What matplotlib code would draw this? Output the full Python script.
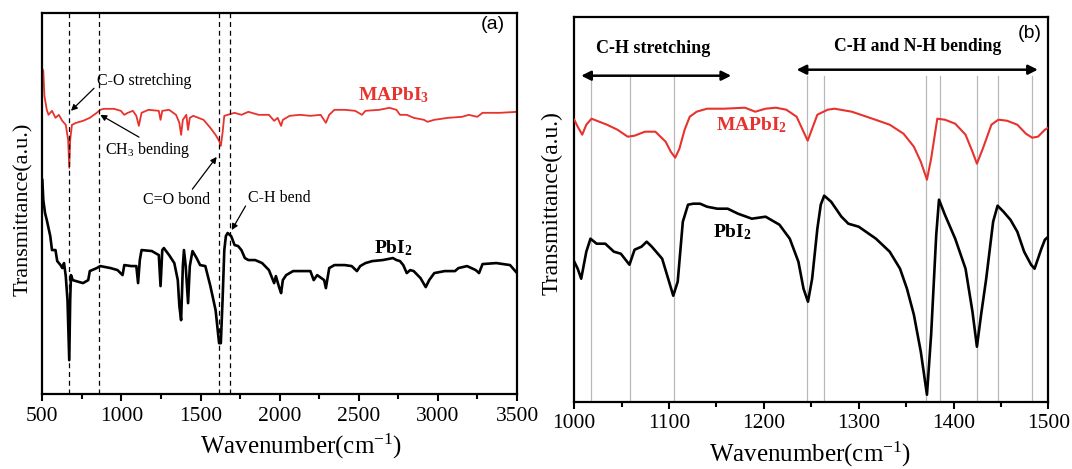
import matplotlib
matplotlib.use("Agg")
import matplotlib.pyplot as plt
from matplotlib.ticker import MultipleLocator
import numpy as np

plt.rcParams['font.family'] = ['Liberation Serif', 'DejaVu Serif']
plt.rcParams['mathtext.fontset'] = 'custom'
plt.rcParams['mathtext.rm'] = 'Liberation Serif'
plt.rcParams['mathtext.it'] = 'Liberation Serif:italic'
plt.rcParams['mathtext.bf'] = 'Liberation Serif:bold'

RED = '#e8322e'

# ---------------- Panel (a) data ----------------
a_red_wn = [500, 506, 513, 528, 539, 561, 583, 604, 626, 648, 663, 670, 676, 687, 713, 757, 800, 844,
            866, 888, 953, 996, 1018, 1040, 1072, 1094, 1110, 1127, 1170, 1236, 1247, 1258, 1301, 1345,
            1366, 1377, 1388, 1410, 1421, 1432, 1454, 1519, 1562, 1595, 1617, 1628, 1639, 1650, 1671,
            1715, 1758, 1802, 1867, 1932, 1965, 1987, 2009, 2020, 2063, 2128, 2194, 2259, 2292, 2313,
            2346, 2411, 2477, 2520, 2542, 2629, 2694, 2738, 2760, 2803, 2847, 2912, 2934, 2977, 3064,
            3152, 3195, 3249, 3282, 3391, 3500]
a_red_t = [325, 323, 298, 284, 279, 283, 276, 279, 273, 269, 254, 226, 254, 269, 271, 273, 276, 281,
           284, 285, 285, 283, 279, 281, 283, 278, 268, 281, 284, 283, 274, 283, 284, 279, 271, 259,
           274, 279, 264, 276, 278, 274, 266, 259, 253, 248, 261, 278, 279, 281, 279, 282, 279, 279,
           273, 276, 268, 274, 278, 279, 278, 279, 271, 279, 284, 284, 283, 279, 283, 284, 286, 284,
           279, 279, 276, 274, 272, 274, 276, 277, 279, 277, 281, 281, 282]

a_blk_wn = [500, 506, 517, 528, 550, 561, 583, 594, 615, 626, 637, 648, 659, 670, 676, 681, 692, 713,
            757, 790, 800, 844, 866, 931, 975, 1007, 1018, 1062, 1094, 1105, 1116, 1127, 1192, 1236,
            1247, 1258, 1268, 1301, 1334, 1356, 1366, 1377, 1388, 1395, 1406, 1421, 1432, 1449, 1475,
            1497, 1530, 1562, 1595, 1617, 1628, 1639, 1650, 1660, 1671, 1693, 1715, 1737, 1758, 1780,
            1802, 1845, 1889, 1932, 1965, 1976, 1998, 2009, 2020, 2041, 2085, 2150, 2194, 2215, 2237,
            2281, 2292, 2313, 2346, 2411, 2455, 2488, 2509, 2542, 2586, 2651, 2716, 2738, 2760, 2781,
            2803, 2825, 2847, 2890, 2923, 2945, 2977, 3043, 3108, 3130, 3184, 3239, 3260, 3282, 3369,
            3456, 3500]
a_blk_t = [214, 194, 181, 174, 158, 144, 144, 133, 129, 126, 131, 118, 94, 34, 94, 119, 114, 113,
           111, 114, 123, 126, 128, 126, 124, 119, 129, 128, 128, 111, 134, 144, 143, 139, 108, 144,
           146, 139, 131, 114, 88, 74, 128, 144, 128, 91, 128, 143, 136, 129, 128, 108, 84, 51, 51, 94,
           144, 158, 161, 158, 149, 148, 144, 136, 134, 134, 131, 124, 111, 118, 106, 101, 114, 119,
           123, 123, 123, 114, 119, 114, 106, 126, 129, 129, 128, 123, 128, 131, 133, 134, 136, 134,
           133, 129, 121, 124, 123, 116, 107, 114, 121, 123, 123, 126, 128, 124, 121, 130, 131, 129,
           121]

a_dashed = [670, 861, 1619, 1689]

# ---------------- Panel (b) data ----------------
b_red_wn = [1000, 1003.6, 1008.4, 1012.7, 1018.2, 1023.6, 1034.5, 1045.5, 1056.4, 1063.6, 1074.5,
            1085.5, 1096.4, 1101.8, 1106.5, 1110.9, 1116.4, 1121.8, 1129.1, 1140, 1158.2, 1180,
            1190.9, 1201.8, 1212.7, 1223.6, 1234.5, 1241.8, 1246.2, 1250.9, 1256.4, 1267.3, 1274.5,
            1292.7, 1314.5, 1332.7, 1347.3, 1358.2, 1365.5, 1372, 1376.4, 1382.9, 1390.9, 1401.8,
            1412.7, 1420, 1424.7, 1430.9, 1440, 1447.3, 1456.4, 1467.3, 1476.4, 1483, 1489.1,
            1496.4, 1500]
b_red_t = [282, 275, 267, 277, 283, 281, 277, 272, 265, 266, 270, 270, 260, 250, 244, 253, 272, 285,
           290, 293, 293, 294, 290, 293, 294, 292, 285, 270, 261, 273, 287, 292, 293, 290, 283, 277,
           268, 255, 240, 222, 243, 283, 282, 278, 267, 250, 238, 253, 277, 282, 281, 277, 268, 264,
           265, 272, 274]

b_blk_wn = [1000, 1003.6, 1007.3, 1012.7, 1017.1, 1023.6, 1032.7, 1041.8, 1049.1, 1058.2, 1063.6,
            1070.9, 1076.4, 1081.8, 1092.7, 1100, 1104.4, 1109.1, 1114.5, 1120, 1125.5, 1132.7, 1140,
            1150.9, 1161.8, 1172.7, 1187.3, 1201.8, 1216.4, 1227.3, 1236.4, 1241.8, 1246.5, 1250.9,
            1256.4, 1260, 1263.6, 1270.9, 1281.8, 1289.1, 1300, 1318.2, 1332.7, 1343.6, 1350.9,
            1358.2, 1365.5, 1372, 1376.4, 1381.8, 1384.7, 1390.9, 1401.8, 1412.7, 1420, 1424.7,
            1429.1, 1434.5, 1441.8, 1446.5, 1452.7, 1460, 1467.3, 1474.5, 1481.8, 1485.5, 1492.7,
            1496.4, 1500]
b_blk_t = [140, 133, 123, 150, 163, 158, 158, 150, 148, 137, 152, 155, 160, 155, 143, 120, 106, 120,
           180, 197, 198, 198, 195, 193, 193, 188, 183, 185, 177, 163, 140, 113, 100, 123, 173, 197,
           206, 200, 185, 178, 175, 163, 150, 133, 113, 87, 50, 7, 67, 167, 202, 187, 163, 133, 90,
           55, 87, 123, 180, 196, 190, 182, 170, 150, 137, 133, 153, 162, 165]

b_gray = [1017.5, 1059, 1105.5, 1246, 1263.6, 1371, 1385.5, 1424.7, 1446.5, 1483]

# ---------------- Figure ----------------
fig = plt.figure(figsize=(10.72, 4.69), dpi=100)
axa = fig.add_axes([0.0395, 0.1593, 0.4428, 0.8137])
axb = fig.add_axes([0.5357, 0.1435, 0.4422, 0.8209])

for ax in (axa, axb):
    for sp in ax.spines.values():
        sp.set_linewidth(1.6)
    ax.set_yticks([])
    ax.tick_params(axis='x', which='major', direction='out', length=5, width=1.5,
                   labelsize=15.5, pad=4)
    ax.tick_params(axis='x', which='minor', direction='out', length=3.5, width=1.5)

# Panel (a)
axa.plot(a_red_wn, a_red_t, color=RED, lw=1.3)
axa.plot(a_blk_wn, a_blk_t, color='k', lw=1.9)
for x in a_dashed:
    axa.axvline(x, color='k', lw=0.9, ls=(0, (4, 3)))
axa.set_xlim(500, 3500)
axa.set_ylim(0, 381)
axa.xaxis.set_major_locator(MultipleLocator(500))
axa.xaxis.set_minor_locator(MultipleLocator(250))

arrow_kw = dict(arrowstyle='-|>', color='k', lw=0.9, mutation_scale=9, shrinkA=0, shrinkB=0)
axa.annotate('C-O stretching', xy=(681, 283), xytext=(844, 313), fontsize=11.5,
             va='center', ha='left', arrowprops=dict(arrow_kw, relpos=(0, 0.2)))
axa.annotate('CH$_3$ bending', xy=(866, 279), xytext=(898, 244), fontsize=11.5,
             va='center', ha='left', arrowprops=dict(arrow_kw, relpos=(0.45, 1.0)))
axa.annotate('C=O bond', xy=(1602, 237), xytext=(1138, 194), fontsize=11.5,
             va='center', ha='left', arrowprops=dict(arrow_kw, relpos=(0.7, 1.0)))
axa.annotate('C-H bend', xy=(1697, 164), xytext=(1802, 196), fontsize=11.5,
             va='center', ha='left', arrowprops=dict(arrow_kw, relpos=(0, 0.3)))
axa.text(2721, 299, r'MAPbI$_\mathbf{3}$', color=RED, fontsize=14, fontweight='bold',
         ha='center', va='center')
axa.text(2716, 146, r'PbI$_\mathbf{2}$', color='k', fontsize=14, fontweight='bold',
         ha='center', va='center')
axa.text(3348, 369, '(a)', fontsize=14, family='Liberation Sans', ha='center', va='center')
axa.set_xlabel('Wavenumber(cm$^{-1}$)', fontsize=18)
axa.set_ylabel('Transmittance(a.u.)', fontsize=16)
axa.xaxis.set_label_coords(0.545, -0.099)
axa.yaxis.set_label_coords(-0.02, 0.486)

# Panel (b)
for x in b_gray:
    axb.plot([x, x], [0, 326], color='#b8b8b8', lw=0.9, zorder=1)
axb.plot(b_red_wn, b_red_t, color=RED, lw=1.5, zorder=3)
axb.plot(b_blk_wn, b_blk_t, color='k', lw=1.9, zorder=3)
axb.set_xlim(1000, 1500)
axb.set_ylim(0, 385)
axb.xaxis.set_major_locator(MultipleLocator(100))
axb.xaxis.set_minor_locator(MultipleLocator(50))

dbl = dict(arrowstyle='<|-|>', color='k', lw=1.8, mutation_scale=14, shrinkA=0, shrinkB=0)
axb.annotate('', xy=(1007.3, 326), xytext=(1165.5, 326), arrowprops=dbl)
axb.annotate('', xy=(1234.5, 332), xytext=(1489, 332), arrowprops=dbl)
axb.text(1083, 353, 'C-H stretching', fontsize=13, fontweight='bold', ha='center', va='center')
axb.text(1362, 355, 'C-H and N-H bending', fontsize=12.7, fontweight='bold',
         ha='center', va='center')
axb.text(1480, 368, '(b)', fontsize=14, family='Liberation Sans', ha='center', va='center')
axb.text(1187, 277, r'MAPbI$_\mathbf{2}$', color=RED, fontsize=14, fontweight='bold',
         ha='center', va='center')
axb.text(1167, 170, r'PbI$_\mathbf{2}$', color='k', fontsize=14, fontweight='bold',
         ha='center', va='center')
axb.set_xlabel('Wavenumber(cm$^{-1}$)', fontsize=18)
axb.set_ylabel('Transmittance(a.u.)', fontsize=17)
axb.xaxis.set_label_coords(0.497, -0.0995)
axb.yaxis.set_label_coords(-0.024, 0.517)

fig.savefig('out.png', dpi=100)
